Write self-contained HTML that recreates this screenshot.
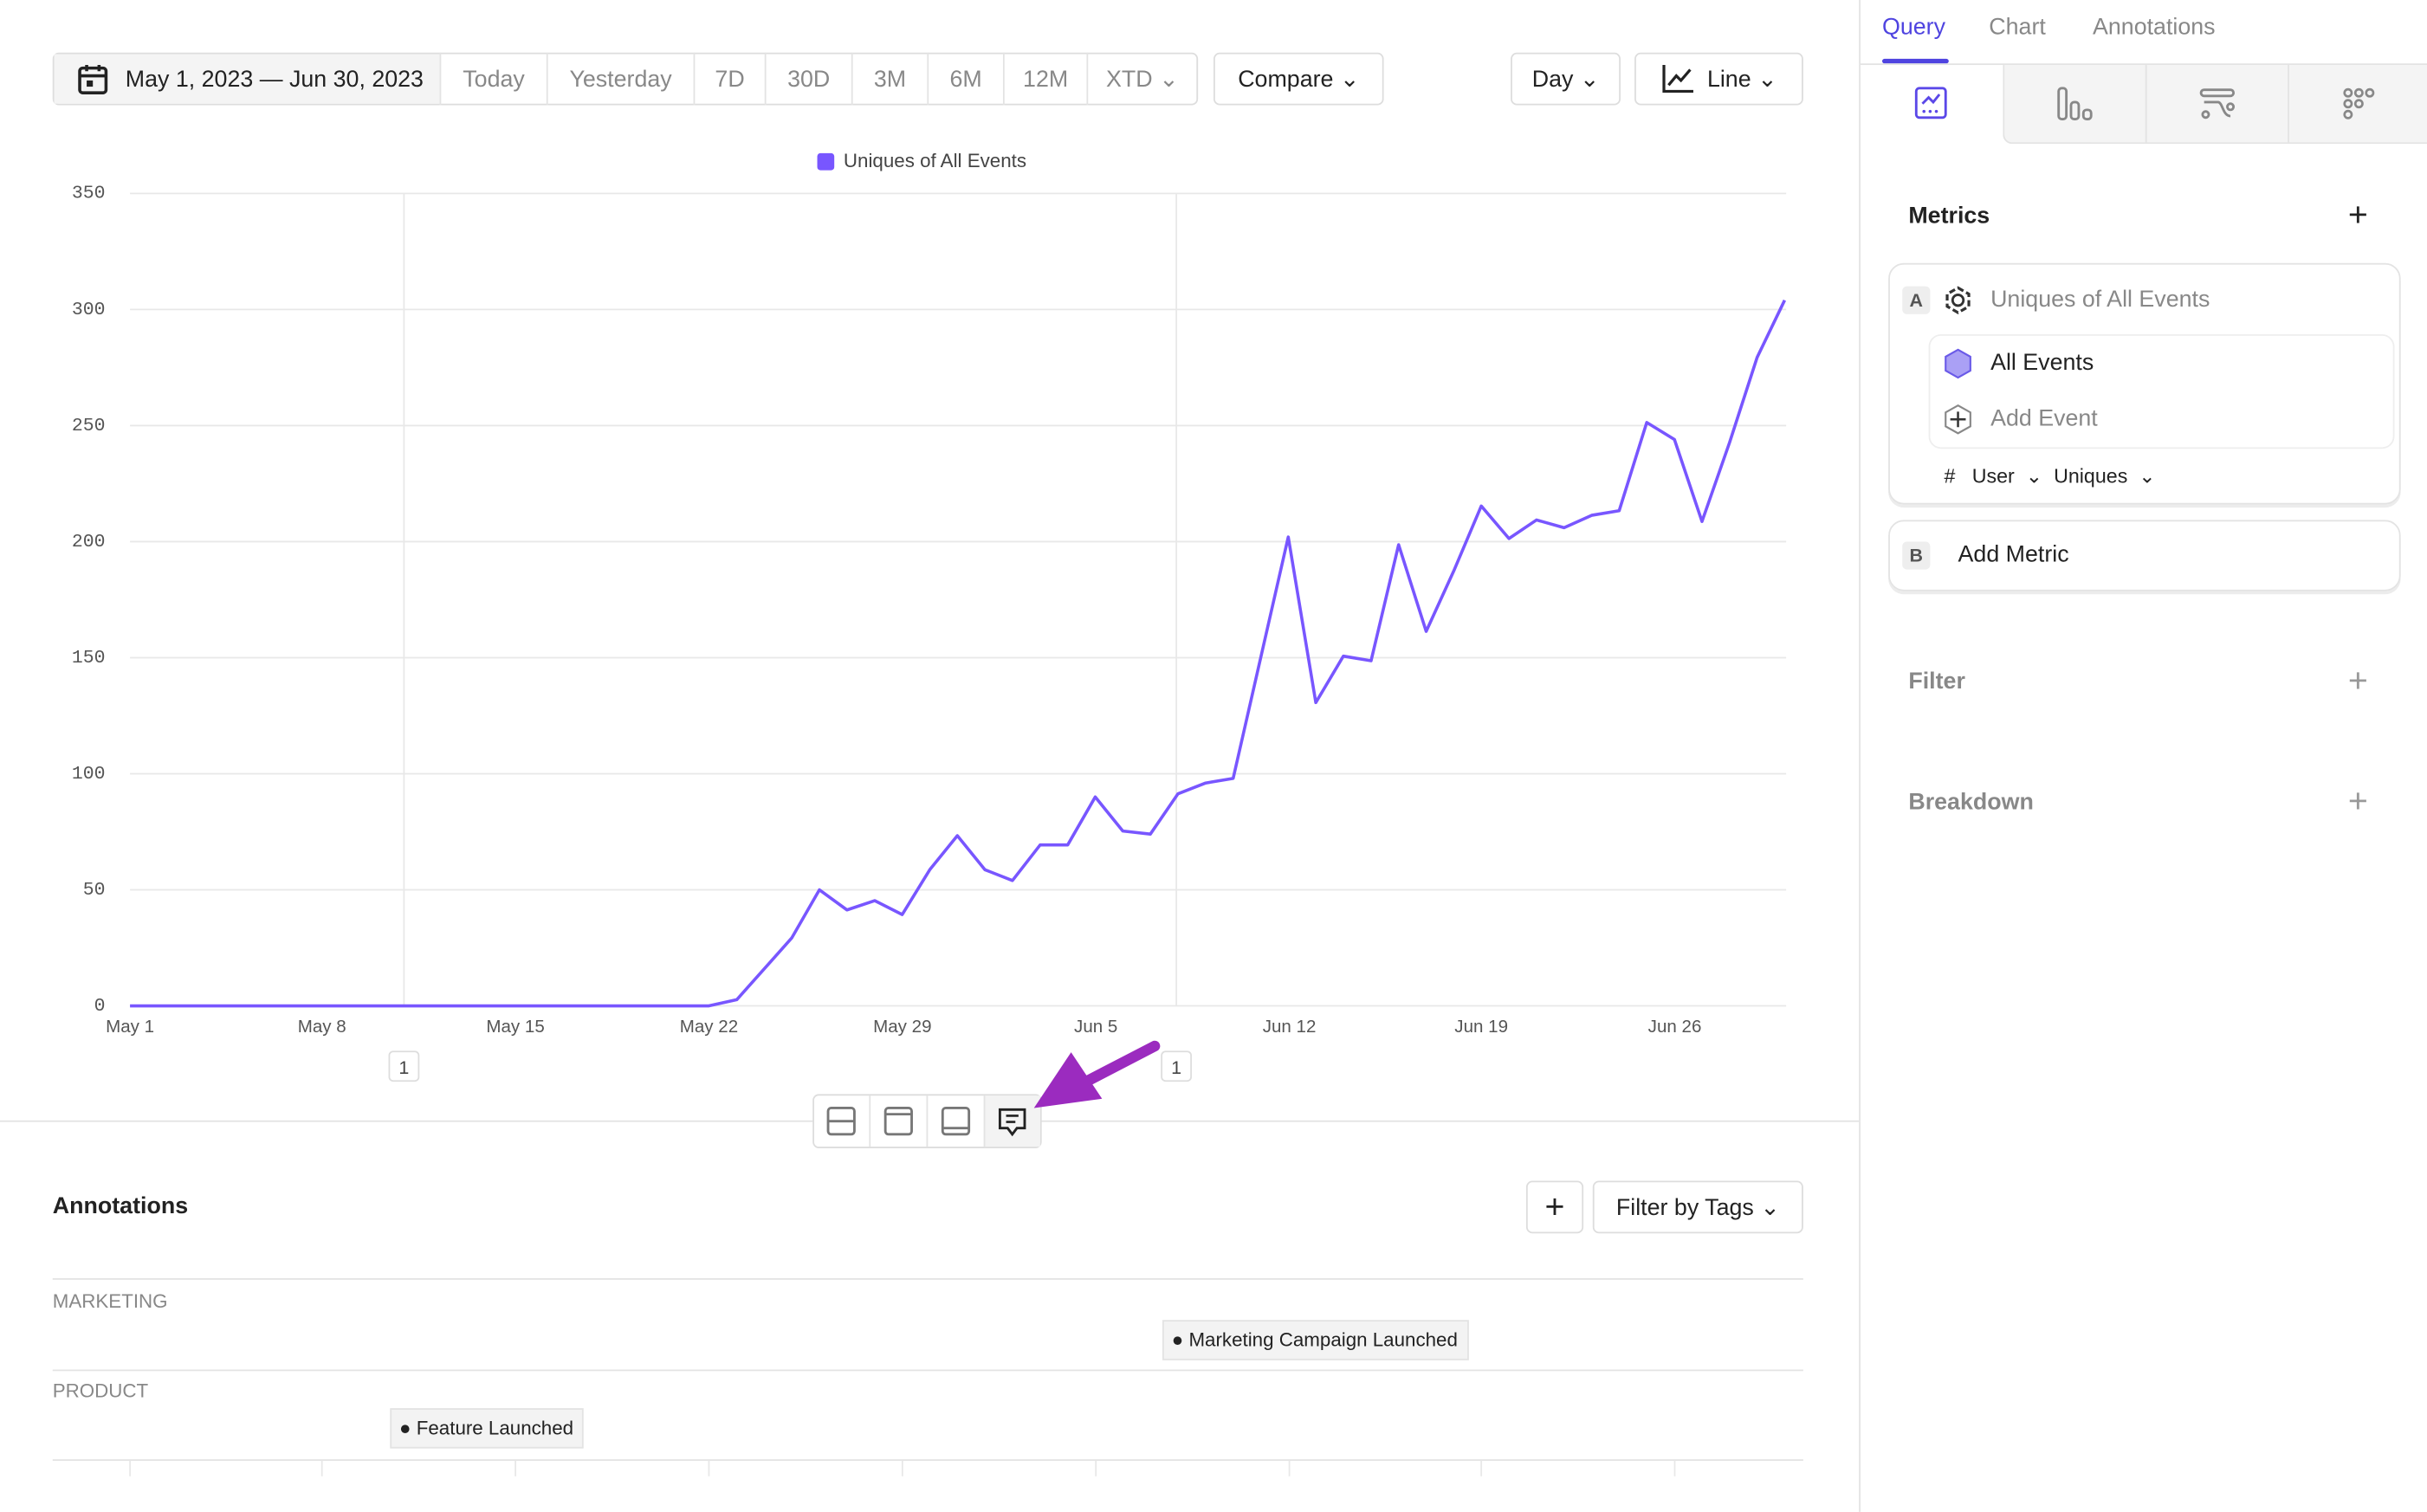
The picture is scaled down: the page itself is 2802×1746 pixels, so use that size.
<!DOCTYPE html>
<html><head><meta charset="utf-8"><style>
html,body{margin:0;padding:0;background:#fff;overflow:hidden;width:2802px;height:1746px}
#w{position:absolute;left:0;top:0;width:1568px;height:977px;transform:scale(1.78699);transform-origin:0 0;font-family:"Liberation Sans",sans-serif;color:#222}
.a{position:absolute}
.btn{position:absolute;border:1px solid #ddd;border-radius:4px;background:#fff;height:34px;box-sizing:border-box;display:flex;align-items:center;justify-content:center;font-size:15px;color:#222}
.seg{position:absolute;top:34px;height:34px;box-sizing:border-box;border-left:1px solid #e3e3e3;display:flex;align-items:center;justify-content:center;font-size:15px;color:#888}
.yl{position:absolute;left:30px;width:38px;text-align:right;font-size:12px;color:#555;font-family:"Liberation Mono",monospace}
.xl{position:absolute;top:658px;font-size:11.5px;color:#555;transform:translateX(-50%);white-space:nowrap}
.num{position:absolute;top:679px;width:20px;height:20px;border:1px solid #ddd;border-radius:3px;font-size:12px;text-align:center;line-height:20px;color:#444;box-sizing:border-box}
.ph{color:#888;font-size:15px;font-weight:bold}
.tag{position:absolute;height:26px;background:#f3f3f3;border:1px solid #e3e3e3;box-sizing:border-box;font-size:12.5px;line-height:24px;padding-left:5px;color:#222;white-space:nowrap;overflow:hidden}
</style></head><body><div id="w">
<div class="a" style="left:34px;top:34px;width:740px;height:34px;border:1px solid #ddd;border-radius:4px;box-sizing:border-box"></div>
<div class="a" style="left:35px;top:35px;width:249px;height:32px;background:#f4f4f4"></div>
<svg class="a" style="left:50px;top:41px" width="20" height="21" viewBox="0 0 20 21"><rect x="1.5" y="3" width="17" height="16" rx="2" fill="none" stroke="#222" stroke-width="2"/><line x1="1.5" y1="8" x2="18.5" y2="8" stroke="#222" stroke-width="2"/><line x1="6" y1="1" x2="6" y2="5" stroke="#222" stroke-width="2"/><line x1="14" y1="1" x2="14" y2="5" stroke="#222" stroke-width="2"/><rect x="6" y="11" width="4" height="4" fill="#222"/></svg>
<div class="a" style="left:81px;top:43px;font-size:15px;color:#222">May 1, 2023 — Jun 30, 2023</div>
<div class="seg" style="left:284px;width:69px">Today</div>
<div class="seg" style="left:353px;width:95px">Yesterday</div>
<div class="seg" style="left:448px;width:46px">7D</div>
<div class="seg" style="left:494px;width:56px">30D</div>
<div class="seg" style="left:550px;width:49px">3M</div>
<div class="seg" style="left:599px;width:49px">6M</div>
<div class="seg" style="left:648px;width:54px">12M</div>
<div class="seg" style="left:702px;width:71px">XTD ⌄</div>
<div class="btn" style="left:784px;top:34px;width:110px">Compare&nbsp;⌄</div>
<div class="btn" style="left:976px;top:34px;width:71px">Day&nbsp;⌄</div>
<div class="btn" style="left:1056px;top:34px;width:109px"><svg width="22" height="20" viewBox="0 0 22 20" style="margin-right:8px"><path d="M2 1V18H21" fill="none" stroke="#222" stroke-width="1.8"/><path d="M5 14L10 8L13 11L19 4" fill="none" stroke="#222" stroke-width="1.8"/></svg>Line&nbsp;⌄</div>
<div class="a" style="left:528px;top:99px;width:11px;height:11px;background:#7856ff;border-radius:2px"></div>
<div class="a" style="left:545px;top:97px;font-size:12.5px;color:#444">Uniques of All Events</div>
<svg class="a" style="left:0;top:0" width="1200" height="720">
<g stroke="#e8e8e8" stroke-width="1">
<line x1="84" y1="125" x2="1154" y2="125"/><line x1="84" y1="200" x2="1154" y2="200"/><line x1="84" y1="275" x2="1154" y2="275"/><line x1="84" y1="350" x2="1154" y2="350"/><line x1="84" y1="425" x2="1154" y2="425"/><line x1="84" y1="500" x2="1154" y2="500"/><line x1="84" y1="575" x2="1154" y2="575"/><line x1="84" y1="650" x2="1154" y2="650"/>
<line x1="261" y1="125" x2="261" y2="650"/><line x1="760" y1="125" x2="760" y2="650"/>
</g>
<polyline fill="none" stroke="#7856ff" stroke-width="2" stroke-linejoin="round" points="84,650 458,650 476,646 493.8,626 511.6,606 529.4,575 547.2,588 565.1,582 582.9,591 600.7,562 618.5,540 636.3,562 654.1,569 672,546 689.8,546 707.6,515 725.4,537 743.2,539 761,513 778.9,506 796.7,503 814.5,425 832.3,347 850.1,454 867.9,424 885.8,427 903.6,352 921.4,408 939.2,369 957,327 974.9,348 992.7,336 1010.5,341 1028.3,333 1046.1,330 1063.9,273 1081.8,284 1099.6,337 1117.4,286 1135.2,231 1153,194"/>
</svg>
<div class="yl" style="top:118px">350</div><div class="yl" style="top:193px">300</div><div class="yl" style="top:268px">250</div><div class="yl" style="top:343px">200</div><div class="yl" style="top:418px">150</div><div class="yl" style="top:493px">100</div><div class="yl" style="top:568px">50</div><div class="yl" style="top:643px">0</div>
<div class="xl" style="left:84px">May 1</div><div class="xl" style="left:208px">May 8</div><div class="xl" style="left:333px">May 15</div><div class="xl" style="left:458px">May 22</div><div class="xl" style="left:583px">May 29</div><div class="xl" style="left:708px">Jun 5</div><div class="xl" style="left:833px">Jun 12</div><div class="xl" style="left:957px">Jun 19</div><div class="xl" style="left:1082px">Jun 26</div>
<div class="num" style="left:251px">1</div><div class="num" style="left:750px">1</div>
<div class="a" style="left:0;top:724px;width:1201px;height:1px;background:#e3e3e3"></div>
<div class="a" style="left:525px;top:707px;width:148px;height:35px;border:1px solid #ddd;border-radius:4px;background:#fff;box-sizing:border-box"></div>
<div class="a" style="left:636px;top:708px;width:36px;height:33px;background:#f3f3f3"></div>
<svg class="a" style="left:525px;top:707px" width="148" height="35">
<g fill="none" stroke="#777" stroke-width="1.6"><rect x="10" y="9" width="17" height="17" rx="2"/><line x1="10" y1="17.5" x2="27" y2="17.5"/><rect x="47" y="9" width="17" height="17" rx="2"/><line x1="47" y1="13" x2="64" y2="13"/><rect x="84" y="9" width="17" height="17" rx="2"/><line x1="84" y1="22" x2="101" y2="22"/></g>
<line x1="37" y1="1" x2="37" y2="34" stroke="#e3e3e3"/><line x1="74" y1="1" x2="74" y2="34" stroke="#e3e3e3"/><line x1="111" y1="1" x2="111" y2="34" stroke="#e3e3e3"/>
<path d="M121 10H137V22H132L129 26L126 22H121Z" fill="none" stroke="#222" stroke-width="1.6"/><line x1="125" y1="14" x2="133" y2="14" stroke="#222" stroke-width="1.5"/><line x1="125" y1="18" x2="131" y2="18" stroke="#222" stroke-width="1.5"/>
</svg>
<svg class="a" style="left:660px;top:668px" width="95" height="55"><line x1="86" y1="8" x2="32" y2="36" stroke="#9b2bbf" stroke-width="7" stroke-linecap="round"/><polygon points="8,48 32,12 52,42" fill="#9b2bbf"/></svg>
<div class="a" style="left:34px;top:771px;font-size:15px;font-weight:bold;color:#222">Annotations</div>
<div class="btn" style="left:986px;top:763px;width:37px;font-size:22px">+</div>
<div class="btn" style="left:1029px;top:763px;width:136px">Filter by Tags&nbsp;⌄</div>
<div class="a" style="left:34px;top:826px;width:1131px;height:1px;background:#e3e3e3"></div>
<div class="a" style="left:34px;top:885px;width:1131px;height:1px;background:#e3e3e3"></div>
<div class="a" style="left:34px;top:943px;width:1131px;height:1px;background:#e3e3e3"></div>
<div class="a" style="left:34px;top:834px;font-size:12.5px;color:#888">MARKETING</div>
<div class="a" style="left:34px;top:892px;font-size:12.5px;color:#888">PRODUCT</div>
<div class="tag" style="left:751px;top:853px;width:198px">● Marketing Campaign Launched</div>
<div class="tag" style="left:252px;top:910px;width:125px">● Feature Launched</div>
<svg class="a" style="left:0;top:944px" width="1200" height="12"><g stroke="#e8e8e8"><line x1="84" y1="0" x2="84" y2="10"/><line x1="208" y1="0" x2="208" y2="10"/><line x1="333" y1="0" x2="333" y2="10"/><line x1="458" y1="0" x2="458" y2="10"/><line x1="583" y1="0" x2="583" y2="10"/><line x1="708" y1="0" x2="708" y2="10"/><line x1="833" y1="0" x2="833" y2="10"/><line x1="957" y1="0" x2="957" y2="10"/><line x1="1082" y1="0" x2="1082" y2="10"/></g></svg>
<div class="a" style="left:1201px;top:0;width:1px;height:977px;background:#e3e3e3"></div>
<div class="a" style="left:1216px;top:9px;font-size:15px;color:#4f44e0">Query</div>
<div class="a" style="left:1285px;top:9px;font-size:15px;color:#888">Chart</div>
<div class="a" style="left:1352px;top:9px;font-size:15px;color:#888">Annotations</div>
<div class="a" style="left:1216px;top:38px;width:43px;height:3px;background:#4f44e0;border-radius:2px"></div>
<div class="a" style="left:1202px;top:41px;width:366px;height:1px;background:#e3e3e3"></div>
<div class="a" style="left:1294px;top:42px;width:274px;height:50px;background:#f4f4f4;border-bottom:1px solid #e3e3e3;border-left:1px solid #e3e3e3;border-bottom-left-radius:6px"></div>
<div class="a" style="left:1386px;top:42px;width:1px;height:50px;background:#e3e3e3"></div>
<div class="a" style="left:1478px;top:42px;width:1px;height:50px;background:#e3e3e3"></div>
<svg class="a" style="left:1237px;top:56px" width="22" height="22"><rect x="1" y="1" width="19" height="19" rx="2" fill="none" stroke="#5b48e8" stroke-width="1.6"/><path d="M5 11L9 7L12 10L16 5" fill="none" stroke="#5b48e8" stroke-width="1.6"/><g fill="#5b48e8"><circle cx="6" cy="16" r="1"/><circle cx="10" cy="16" r="1"/><circle cx="14" cy="16" r="1"/></g></svg>
<svg class="a" style="left:1329px;top:56px" width="24" height="22" fill="none" stroke="#888" stroke-width="1.6"><rect x="1" y="1" width="5" height="20" rx="2"/><rect x="9" y="10" width="5" height="11" rx="2"/><rect x="17" y="15" width="5" height="6" rx="2"/></svg>
<svg class="a" style="left:1421px;top:56px" width="24" height="22" fill="none" stroke="#888" stroke-width="1.6"><rect x="1" y="2" width="21" height="4" rx="2"/><path d="M3 10H12C15 10 15 19 20 19"/><circle cx="4" cy="18" r="2"/><circle cx="20" cy="13" r="2"/></svg>
<svg class="a" style="left:1513px;top:56px" width="24" height="22" fill="none" stroke="#888" stroke-width="1.5"><circle cx="4" cy="4" r="2.3"/><circle cx="11" cy="4" r="2.3"/><circle cx="18" cy="4" r="2.3"/><circle cx="4" cy="11" r="2.3"/><circle cx="11" cy="11" r="2.3"/><circle cx="4" cy="18" r="2.3"/></svg>
<div class="a" style="left:1233px;top:131px;font-size:15px;font-weight:bold;color:#222">Metrics</div>
<div class="a" style="left:1517px;top:126px;font-size:22px;color:#222">+</div>
<div class="a" style="left:1220px;top:170px;width:331px;height:156px;border:1px solid #e3e3e3;border-radius:10px;box-shadow:0 2px 0 #ececec;box-sizing:border-box"></div>
<div class="a" style="left:1229px;top:185px;width:18px;height:18px;background:#eee;border-radius:3px;font-size:12px;font-weight:bold;color:#555;text-align:center;line-height:18px">A</div>
<svg class="a" style="left:1255px;top:184px" width="20" height="20"><polygon points="10,2 17,6 17,14 10,18 3,14 3,6" fill="none" stroke="#333" stroke-width="1.8" stroke-dasharray="4 2"/><circle cx="10" cy="10" r="3.5" fill="none" stroke="#333" stroke-width="1.6"/></svg>
<div class="a" style="left:1286px;top:185px;font-size:15px;color:#888">Uniques of All Events</div>
<div class="a" style="left:1246px;top:216px;width:301px;height:74px;border:1px solid #eee;border-radius:8px;box-sizing:border-box"></div>
<svg class="a" style="left:1255px;top:225px" width="20" height="20"><polygon points="10,1 18,5.5 18,14.5 10,19 2,14.5 2,5.5" fill="#aaa0f5" stroke="#6a5ae8" stroke-width="1.2"/></svg>
<div class="a" style="left:1286px;top:226px;font-size:15px;color:#222">All Events</div>
<svg class="a" style="left:1255px;top:261px" width="20" height="20"><polygon points="10,1 18,5.5 18,14.5 10,19 2,14.5 2,5.5" fill="none" stroke="#888" stroke-width="1.2"/><path d="M10 5V15M5 10H15" stroke="#333" stroke-width="1.4"/></svg>
<div class="a" style="left:1286px;top:262px;font-size:15px;color:#888">Add Event</div>
<div class="a" style="left:1256px;top:300px;font-size:13px;color:#222">#&nbsp;&nbsp;&nbsp;User&nbsp;&nbsp;⌄&nbsp;&nbsp;Uniques&nbsp;&nbsp;⌄</div>
<div class="a" style="left:1220px;top:336px;width:331px;height:46px;border:1px solid #e3e3e3;border-radius:10px;box-shadow:0 2px 0 #ececec;box-sizing:border-box"></div>
<div class="a" style="left:1229px;top:350px;width:18px;height:18px;background:#eee;border-radius:3px;font-size:12px;font-weight:bold;color:#555;text-align:center;line-height:18px">B</div>
<div class="a" style="left:1265px;top:350px;font-size:15px;color:#222">Add Metric</div>
<div class="a ph" style="left:1233px;top:432px">Filter</div>
<div class="a" style="left:1517px;top:427px;font-size:22px;color:#999">+</div>
<div class="a ph" style="left:1233px;top:510px">Breakdown</div>
<div class="a" style="left:1517px;top:505px;font-size:22px;color:#999">+</div>
</div></body></html>
